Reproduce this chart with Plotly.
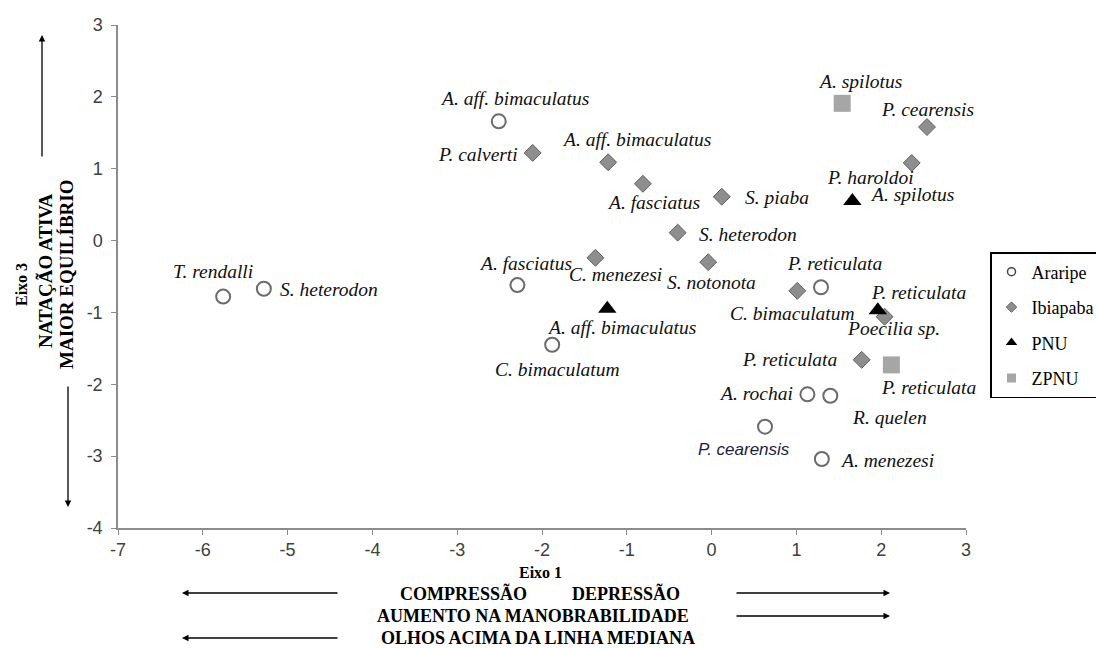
import plotly.graph_objects as go

# ---------------- data ----------------
araripe_names = ["T. rendalli", "S. heterodon", "A. aff. bimaculatus", "A. fasciatus",
                 "C. bimaculatum", "P. reticulata", "A. rochai", "R. quelen",
                 "P. cearensis", "A. menezesi"]
araripe_x = [-5.76, -5.28, -2.51, -2.29, -1.88, 1.29, 1.13, 1.40, 0.63, 1.30]
araripe_y = [-0.78, -0.67, 1.66, -0.62, -1.45, -0.65, -2.14, -2.16, -2.59, -3.04]

ibiapaba_names = ["P. calverti", "A. aff. bimaculatus", "A. fasciatus", "S. piaba",
                  "S. heterodon", "C. menezesi", "S. notonota", "C. bimaculatum",
                  "Poecilia sp.", "P. reticulata", "P. haroldoi", "P. cearensis"]
ibiapaba_x = [-2.11, -1.22, -0.81, 0.12, -0.40, -1.37, -0.04, 1.01, 2.04, 1.77, 2.36, 2.54]
ibiapaba_y = [1.22, 1.09, 0.79, 0.61, 0.11, -0.24, -0.30, -0.70, -1.06, -1.66, 1.08, 1.58]

pnu_names = ["A. aff. bimaculatus", "A. spilotus", "P. reticulata"]
pnu_x = [-1.23, 1.66, 1.96]
pnu_y = [-0.95, 0.55, -0.97]

zpnu_names = ["A. spilotus", "P. reticulata"]
zpnu_x = [1.54, 2.12]
zpnu_y = [1.91, -1.73]

group_names = ["Araripe", "Ibiapaba", "PNU", "ZPNU"]

x_tick_vals = [-7, -6, -5, -4, -3, -2, -1, 0, 1, 2, 3]
x_tick_text = ["-7", "-6", "-5", "-4", "-3", "-2", "-1", "0", "1", "2", "3"]
y_tick_vals = [-4, -3, -2, -1, 0, 1, 2, 3]
y_tick_text = ["-4", "-3", "-2", "-1", "0", "1", "2", "3"]

# ---------------- label placement (pixel offsets: dx, dy(down), anchor) ----------------
araripe_lbl = [(-10, -25, "center"), (14, 1, "left"), (16, -23, "center"), (8, -22, "center"),
               (5, 25, "center"), (14, -24, "center"), (-12, -1, "right"), (20, 22, "left"),
               (-21, 23, "center"), (16, 1, "left")]
araripe_lbl_sans = [False, False, False, False, False, False, False, False, True, False]
ibiapaba_lbl = [(-13, 2, "right"), (28, -23, "center"), (11, 19, "center"), (21, 1, "left"),
                (19, 2, "left"), (20, 17, "center"), (3, 20, "center"), (-5, 23, "center"),
                (9, 12, "center"), (-23, 0, "right"), (-41, 15, "center"), (1, -18, "center")]
pnu_lbl = [(14, 19, "center"), (16, -7, "left"), (41, -18, "center")]
zpnu_lbl = [(18, -22, "center"), (37, 23, "center")]

# ---------------- geometry helpers ----------------
W, H = 1096, 648
ML, MR, MT, MB = 118, 130, 25, 120
PW, PH = W - ML - MR, H - MT - MB


def px(xp):
    return (xp - ML) / PW


def py(yp):
    return (H - MB - yp) / PH


markers = [
    dict(symbol="circle", size=14, color="white", line=dict(color="#6b6b6b", width=2)),
    dict(symbol="diamond", size=13, color="#8e8e8e", line=dict(color="#5f5f5f", width=1)),
    dict(symbol="triangle-up", size=16, color="black", line=dict(color="black", width=0)),
    dict(symbol="square", size=17, color="#a6a6a6", line=dict(color="#a6a6a6", width=0)),
]
legend_markers = [
    dict(symbol="circle", size=8, color="white", line=dict(color="#444444", width=1.5)),
    dict(symbol="diamond", size=8, color="#8e8e8e", line=dict(color="#5f5f5f", width=1)),
    dict(symbol="triangle-up", size=10, color="black", line=dict(width=0)),
    dict(symbol="square", size=9, color="#a6a6a6", line=dict(width=0)),
]

groups = [
    (araripe_names, araripe_x, araripe_y, araripe_lbl),
    (ibiapaba_names, ibiapaba_x, ibiapaba_y, ibiapaba_lbl),
    (pnu_names, pnu_x, pnu_y, pnu_lbl),
    (zpnu_names, zpnu_x, zpnu_y, zpnu_lbl),
]

fig = go.Figure()
annotations = []
for gi, (names, xs, ys, lbls) in enumerate(groups):
    fig.add_trace(go.Scatter(x=xs, y=ys, mode="markers", marker=markers[gi],
                             text=names, name=group_names[gi], showlegend=False,
                             hoverinfo="text+x+y"))
    for i, (n, xv, yv) in enumerate(zip(names, xs, ys)):
        dx, dy, anc = lbls[i]
        sans = gi == 0 and araripe_lbl_sans[i]
        annotations.append(dict(
            x=xv, y=yv, xref="x", yref="y", text=n, showarrow=False,
            xshift=dx, yshift=-dy, xanchor=anc, yanchor="middle",
            font=dict(family="Liberation Sans" if sans else "Liberation Serif",
                      size=17 if sans else 19.5, style="italic",
                      color="#1c1c3c" if sans else "#111111")))

# legend-only entries
for gi in range(4):
    fig.add_trace(go.Scatter(x=[None], y=[None], mode="markers", marker=legend_markers[gi],
                             name=group_names[gi], legendgroup=group_names[gi],
                             showlegend=True))

bold_serif = dict(family="Liberation Serif", weight="bold", color="black")

# y-axis title lines (rotated)
for txt, xc, yc, sz in [("Eixo 3", 22, 285, 16), ("NATAÇÃO ATIVA", 45, 271, 19),
                         ("MAIOR EQUILÍBRIO", 66, 274, 19)]:
    annotations.append(dict(x=px(xc), y=py(yc), xref="paper", yref="paper", text=txt,
                            showarrow=False, textangle=-90, xanchor="center", yanchor="middle",
                            font=dict(size=sz, **bold_serif)))

# x-axis title lines
for txt, xc, yc, sz in [("Eixo 1", 540, 572, 16), ("COMPRESSÃO", 463, 593, 18),
                         ("DEPRESSÃO", 626, 593, 18),
                         ("AUMENTO NA MANOBRABILIDADE", 533, 616, 18),
                         ("OLHOS ACIMA DA LINHA MEDIANA", 538, 638, 18)]:
    annotations.append(dict(x=px(xc), y=py(yc), xref="paper", yref="paper", text=txt,
                            showarrow=False, xanchor="center", yanchor="middle",
                            font=dict(size=sz, **bold_serif)))

# direction arrows (head x, head y, tail offset ax, ay) in pixels
for hx, hy, ax, ay in [(182, 593, 157, 0), (890, 593, -155, 0), (890, 616, -155, 0),
                       (182, 638, 157, 0), (42, 35, 0, 123), (68, 507, 0, -122)]:
    annotations.append(dict(x=px(hx), y=py(hy), xref="paper", yref="paper", text="",
                            showarrow=True, ax=ax, ay=ay, arrowhead=2, arrowsize=1,
                            arrowwidth=1.3, arrowcolor="black", standoff=0))

axis_common = dict(showline=True, linecolor="#8c8c8c", linewidth=1.5, ticks="outside",
                   ticklen=5, tickwidth=1.2, tickcolor="#8c8c8c", showgrid=False,
                   zeroline=False, mirror=False,
                   tickfont=dict(family="Liberation Sans", size=18, color="#404040"))

fig.update_xaxes(range=[-7, 3], tickvals=x_tick_vals, ticktext=x_tick_text, **axis_common)
fig.update_yaxes(range=[-4, 3], tickvals=y_tick_vals, ticktext=y_tick_text,
                 ticklabelstandoff=5, **axis_common)

fig.update_layout(
    width=W, height=H,
    margin=dict(l=ML, r=MR, t=MT, b=MB, pad=0, autoexpand=False),
    paper_bgcolor="white", plot_bgcolor="white",
    annotations=annotations,
    showlegend=True,
    legend=dict(x=px(990), y=py(252), xanchor="left", yanchor="top",
                bordercolor="black", borderwidth=1.5, bgcolor="white",
                font=dict(family="Liberation Serif", size=18, color="black"),
                traceorder="grouped", tracegroupgap=9, itemwidth=30),
)

fig.write_html("out.html", config={"displayModeBar": False},
               post_script="document.body.style.margin='0';")
